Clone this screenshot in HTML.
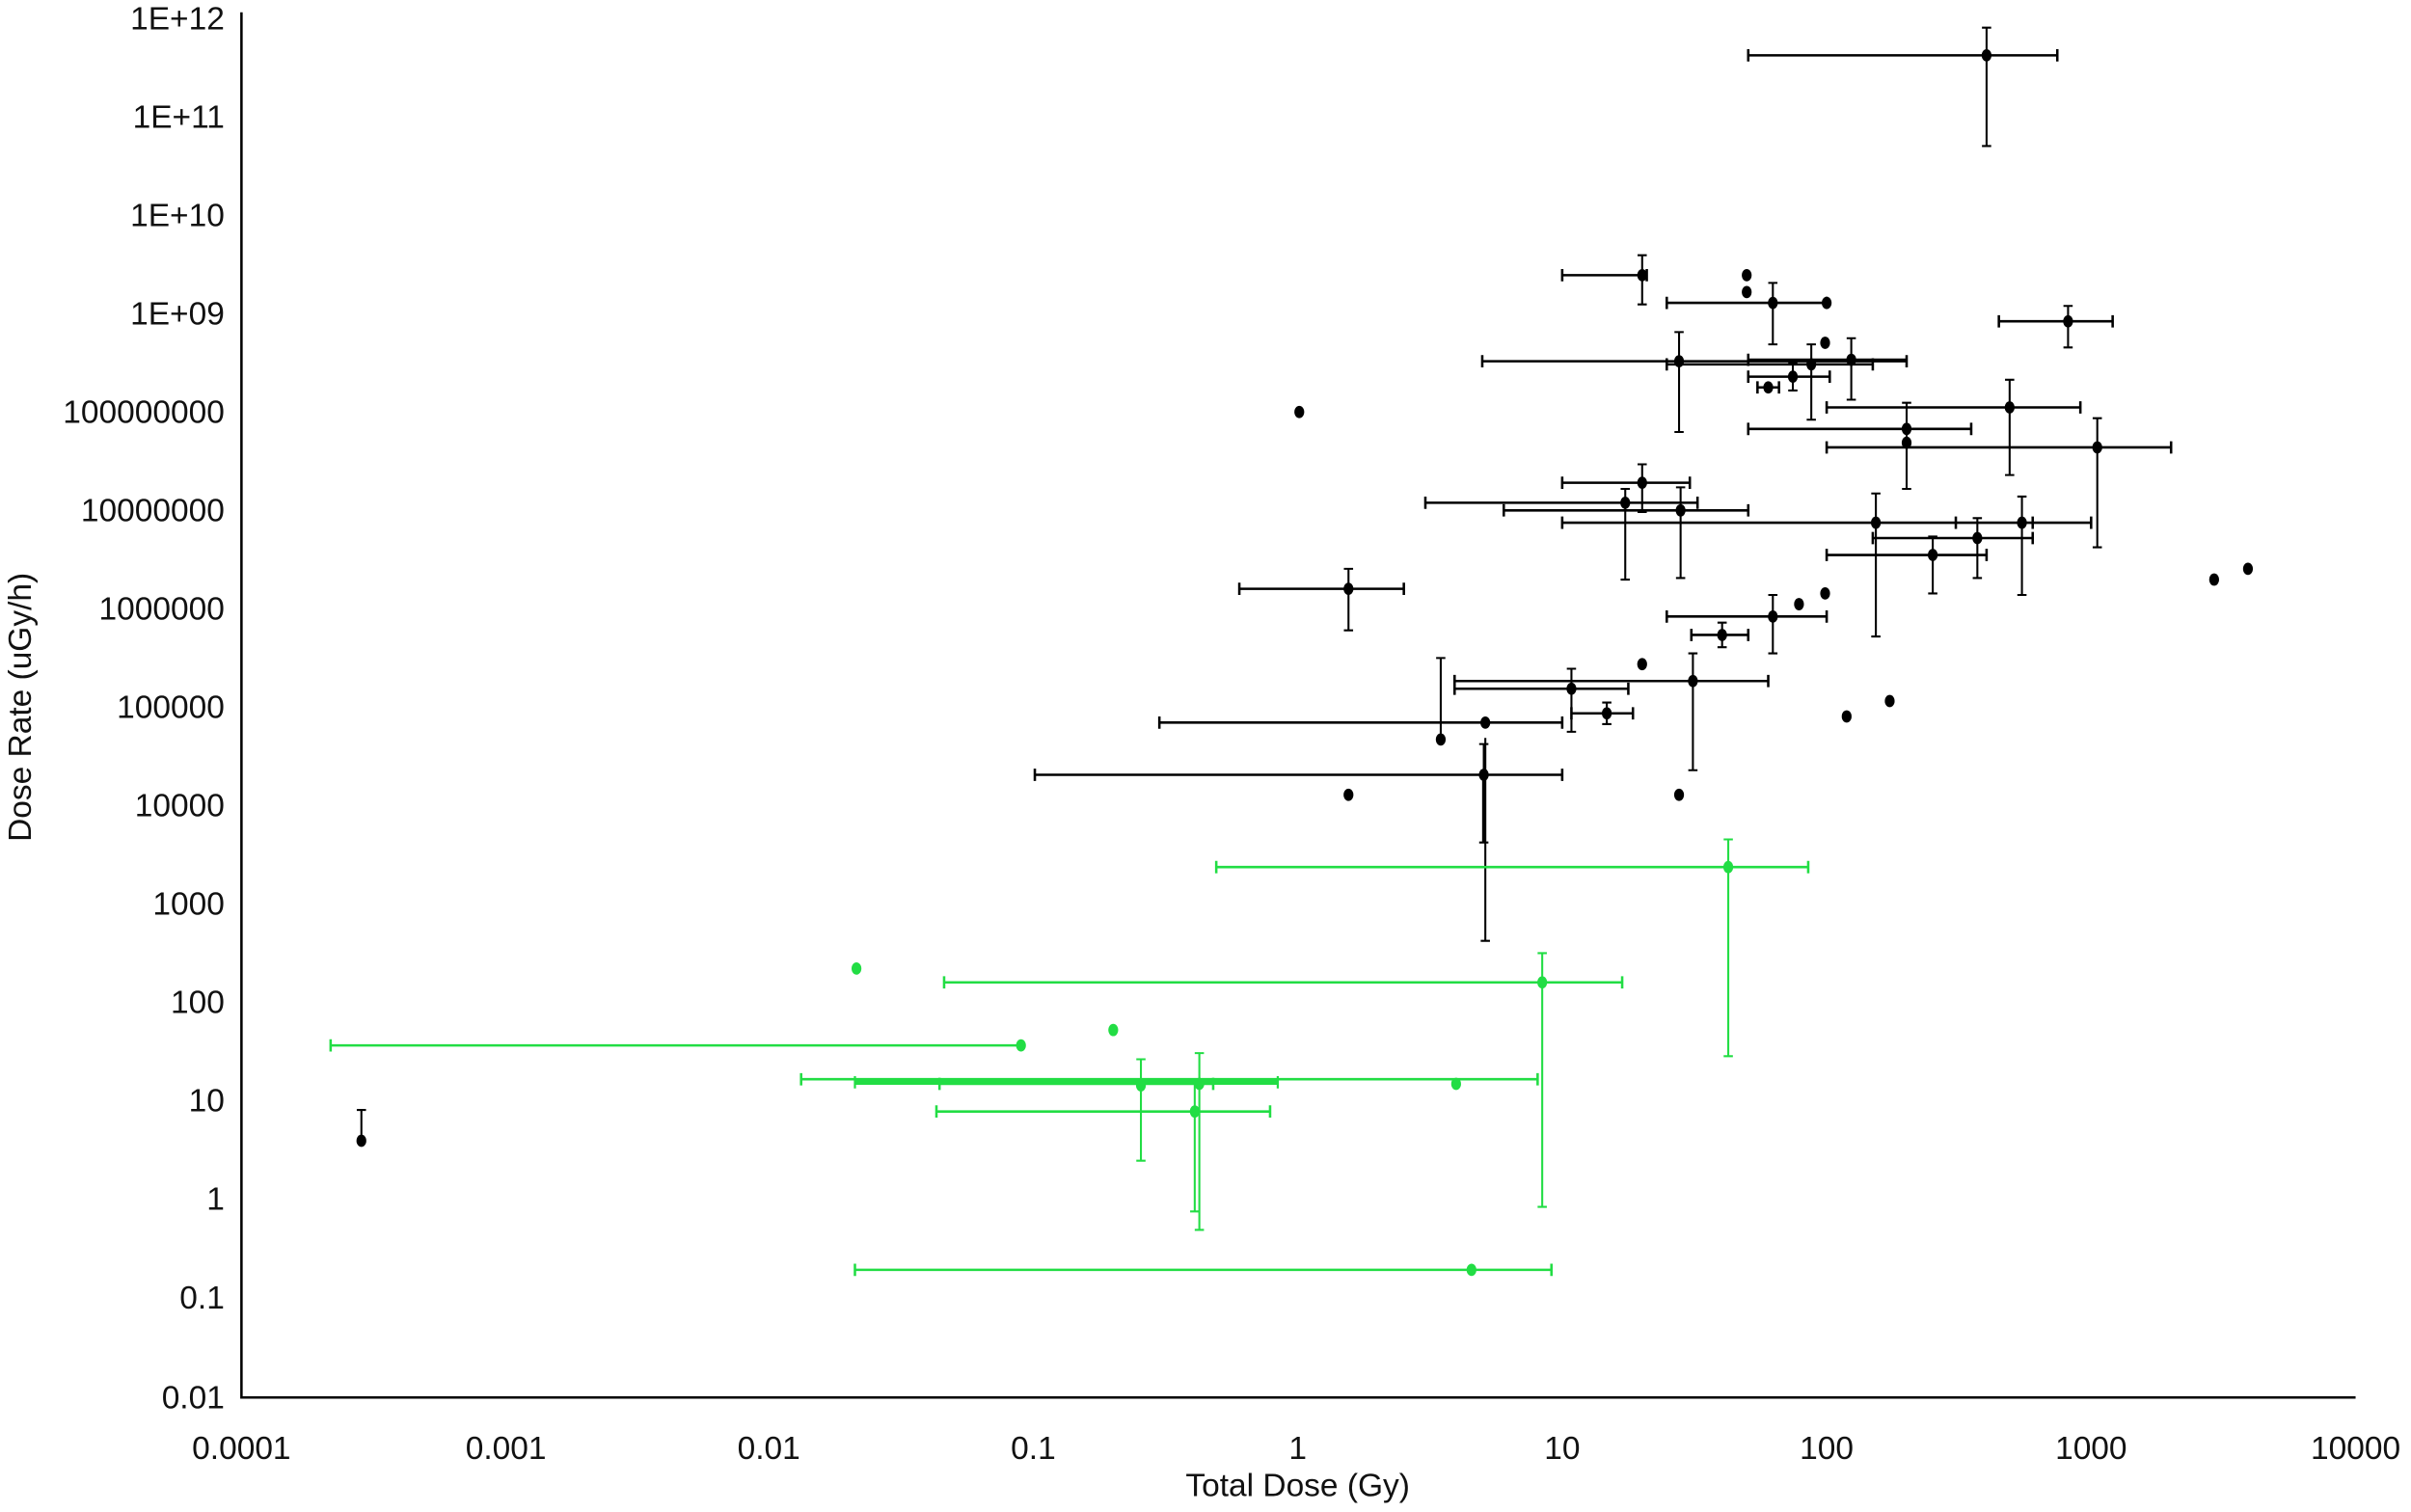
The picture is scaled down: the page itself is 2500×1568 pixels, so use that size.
<!DOCTYPE html>
<html><head><meta charset="utf-8"><style>
html,body{margin:0;padding:0;background:#fff;}
svg{display:block;}
text{font-family:"Liberation Sans",sans-serif;fill:#111;}
</style></head><body>
<svg width="2500" height="1568" viewBox="0 0 1568 983.5" xmlns="http://www.w3.org/2000/svg">
<rect width="1568" height="983.5" fill="#fff"/>
<path d="M157 8 V909 H1532" fill="none" stroke="#000" stroke-width="1.6"/>
<g font-size="21" text-anchor="end">
<text x="146" y="19">1E+12</text>
<text x="146" y="83">1E+11</text>
<text x="146" y="147">1E+10</text>
<text x="146" y="211">1E+09</text>
<text x="146" y="275">100000000</text>
<text x="146" y="339">10000000</text>
<text x="146" y="403">1000000</text>
<text x="146" y="467">100000</text>
<text x="146" y="531">10000</text>
<text x="146" y="595">1000</text>
<text x="146" y="659">100</text>
<text x="146" y="723">10</text>
<text x="146" y="787">1</text>
<text x="146" y="851">0.1</text>
<text x="146" y="916">0.01</text>
</g>
<g font-size="21" text-anchor="middle">
<text x="157" y="949">0.0001</text>
<text x="329" y="949">0.001</text>
<text x="500" y="949">0.01</text>
<text x="672" y="949">0.1</text>
<text x="844" y="949">1</text>
<text x="1016" y="949">10</text>
<text x="1188" y="949">100</text>
<text x="1360" y="949">1000</text>
<text x="1532" y="949">10000</text>
<text x="844" y="973">Total Dose (Gy)</text>
<text transform="translate(20,460) rotate(-90)">Dose Rate (uGy/h)</text>
</g>
<!-- black horizontal error bars -->
<path fill="none" stroke="#000" stroke-width="1.6" d="
M1137 36H1338M1137 32V40M1338 32V40
M1016 179H1071M1016 175V183M1071 175V183
M1084 197H1188M1084 193V201M1188 193V201
M1300 209H1374M1300 205V213M1374 205V213
M964 235H1240M964 231V239M1240 231V239
M1137 234H1240M1137 230V238
M1084 237H1218M1084 233V241M1218 233V241
M1137 245H1190M1137 241V249M1190 241V249
M1143 252H1157M1143 248V256M1157 248V256
M1188 265H1353M1188 261V269M1353 261V269
M1137 279H1282M1137 275V283M1282 275V283
M1188 291H1412M1188 287V295M1412 287V295
M1016 314H1099M1016 310V318M1099 310V318
M927 327H1104M927 323V331M1104 323V331
M978 332H1137M978 328V336M1137 328V336
M1016 340H1360M1016 336V344M1360 336V344
M1272 340H1322M1272 336V344M1322 336V344
M1218 350H1322M1218 346V354M1322 346V354
M1188 361H1292M1188 357V365M1292 357V365
M806 383H913M806 379V387M913 379V387
M1084 401H1188M1084 397V405M1188 397V405
M1100 413H1137M1100 409V417M1137 409V417
M946 443H1150M946 439V447M1150 439V447
M946 448H1059M946 444V452M1059 444V452
M754 470H1016M754 466V474M1016 466V474
M1022 464H1062M1022 460V468M1062 460V468
M673 504H1016M673 500V508M1016 500V508"/>
<!-- black vertical error bars -->
<path fill="none" stroke="#000" stroke-width="1.3" d="
M1292 18V95M1289 18H1295M1289 95H1295
M1068 166V198M1065 166H1071M1065 198H1071
M1153 184V224M1150 184H1156M1150 224H1156
M1345 199V226M1342 199H1348M1342 226H1348
M1092 216V281M1089 216H1095M1089 281H1095
M1204 220V260M1201 220H1207M1201 260H1207
M1178 224V273M1175 224H1181M1175 273H1181
M1166 236V254M1163 236H1169M1163 254H1169
M1307 247V309M1304 247H1310M1304 309H1310
M1240 262V318M1237 262H1243M1237 318H1243
M1364 272V356M1361 272H1367M1361 356H1367
M1068 302V333M1065 302H1071M1065 333H1071
M1057 318V377M1054 318H1060M1054 377H1060
M1093 317V376M1090 317H1096M1090 376H1096
M1220 321V414M1217 321H1223M1217 414H1223
M1315 323V387M1312 323H1318M1312 387H1318
M1286 337V376M1283 337H1289M1283 376H1289
M1257 349V386M1254 349H1260M1254 386H1260
M877 370V410M874 370H880M874 410H880
M1153 387V425M1150 387H1156M1150 425H1156
M1120 405V421M1117 405H1123M1117 421H1123
M1101 425V501M1098 425H1104M1098 501H1104
M1022 435V476M1019 435H1025M1019 476H1025
M966 480V612M963 612H969
M937 428V481M934 428H940
M1045 457V471M1042 457H1048M1042 471H1048
M965 484V548M962 484H968M962 548H968
M235 722V742M232 722H238"/>
<path d="M965 504V548" stroke="#000" stroke-width="2.2"/>
<g fill="#000">
<ellipse cx="1292" cy="36" rx="3.2" ry="4"/>
<ellipse cx="1068" cy="179" rx="3.2" ry="4"/>
<ellipse cx="1136" cy="179" rx="3.2" ry="4"/>
<ellipse cx="1136" cy="190" rx="3.2" ry="4"/>
<ellipse cx="1153" cy="197" rx="3.2" ry="4"/>
<ellipse cx="1188" cy="197" rx="3.2" ry="4"/>
<ellipse cx="1345" cy="209" rx="3.2" ry="4"/>
<ellipse cx="1187" cy="223" rx="3.2" ry="4"/>
<ellipse cx="1092" cy="235" rx="3.2" ry="4"/>
<ellipse cx="1204" cy="234" rx="3.2" ry="4"/>
<ellipse cx="1178" cy="237" rx="3.2" ry="4"/>
<ellipse cx="1166" cy="245" rx="3.2" ry="4"/>
<ellipse cx="1150" cy="252" rx="3.2" ry="4"/>
<ellipse cx="845" cy="268" rx="3.2" ry="4"/>
<ellipse cx="1307" cy="265" rx="3.2" ry="4"/>
<ellipse cx="1240" cy="279" rx="3.2" ry="4"/>
<ellipse cx="1240" cy="288" rx="3.2" ry="4"/>
<ellipse cx="1364" cy="291" rx="3.2" ry="4"/>
<ellipse cx="1068" cy="314" rx="3.2" ry="4"/>
<ellipse cx="1057" cy="327" rx="3.2" ry="4"/>
<ellipse cx="1093" cy="332" rx="3.2" ry="4"/>
<ellipse cx="1220" cy="340" rx="3.2" ry="4"/>
<ellipse cx="1315" cy="340" rx="3.2" ry="4"/>
<ellipse cx="1286" cy="350" rx="3.2" ry="4"/>
<ellipse cx="1257" cy="361" rx="3.2" ry="4"/>
<ellipse cx="1440" cy="377" rx="3.2" ry="4"/>
<ellipse cx="1462" cy="370" rx="3.2" ry="4"/>
<ellipse cx="877" cy="383" rx="3.2" ry="4"/>
<ellipse cx="1187" cy="386" rx="3.2" ry="4"/>
<ellipse cx="1170" cy="393" rx="3.2" ry="4"/>
<ellipse cx="1153" cy="401" rx="3.2" ry="4"/>
<ellipse cx="1120" cy="413" rx="3.2" ry="4"/>
<ellipse cx="1068" cy="432" rx="3.2" ry="4"/>
<ellipse cx="1101" cy="443" rx="3.2" ry="4"/>
<ellipse cx="1022" cy="448" rx="3.2" ry="4"/>
<ellipse cx="966" cy="470" rx="3.2" ry="4"/>
<ellipse cx="937" cy="481" rx="3.2" ry="4"/>
<ellipse cx="1045" cy="464" rx="3.2" ry="4"/>
<ellipse cx="1229" cy="456" rx="3.2" ry="4"/>
<ellipse cx="1201" cy="466" rx="3.2" ry="4"/>
<ellipse cx="965" cy="504" rx="3.2" ry="4"/>
<ellipse cx="877" cy="517" rx="3.2" ry="4"/>
<ellipse cx="1092" cy="517" rx="3.2" ry="4"/>
<ellipse cx="235" cy="742" rx="3.2" ry="4"/>
</g>
<!-- green -->
<path fill="none" stroke="#22dd44" stroke-width="1.6" d="
M791 564H1176M791 560V568M1176 560V568
M614 639H1055M614 635V643M1055 635V643
M215 680H664M215 676V684
M521 702H1000M521 698V706M1000 698V706
M611 705H789M611 701V709M789 701V709
M609 723H826M609 719V727M826 719V727
M556 826H1009M556 822V830M1009 822V830"/>
<path d="M556 704H831" stroke="#22dd44" stroke-width="3.2"/>
<path d="M556 700V708M831 700V708" stroke="#22dd44" stroke-width="1.4"/>
<path fill="none" stroke="#22dd44" stroke-width="1.3" d="
M1124 546V687M1121 546H1127M1121 687H1127
M1003 620V785M1000 620H1006M1000 785H1006
M742 689V755M739 689H745M739 755H745
M780 685V800M777 685H783M777 800H783
M777 703V788M774 788H780"/>
<g fill="#22dd44">
<ellipse cx="1124" cy="564" rx="3.2" ry="4"/>
<ellipse cx="557" cy="630" rx="3.2" ry="4"/>
<ellipse cx="1003" cy="639" rx="3.2" ry="4"/>
<ellipse cx="724" cy="670" rx="3.2" ry="4"/>
<ellipse cx="664" cy="680" rx="3.2" ry="4"/>
<ellipse cx="947" cy="705" rx="3.2" ry="4"/>
<ellipse cx="742" cy="706" rx="3.2" ry="4"/>
<ellipse cx="780" cy="705" rx="3.2" ry="4"/>
<ellipse cx="777" cy="723" rx="3.2" ry="4"/>
<ellipse cx="957" cy="826" rx="3.2" ry="4"/>
</g>
</svg>
</body></html>
